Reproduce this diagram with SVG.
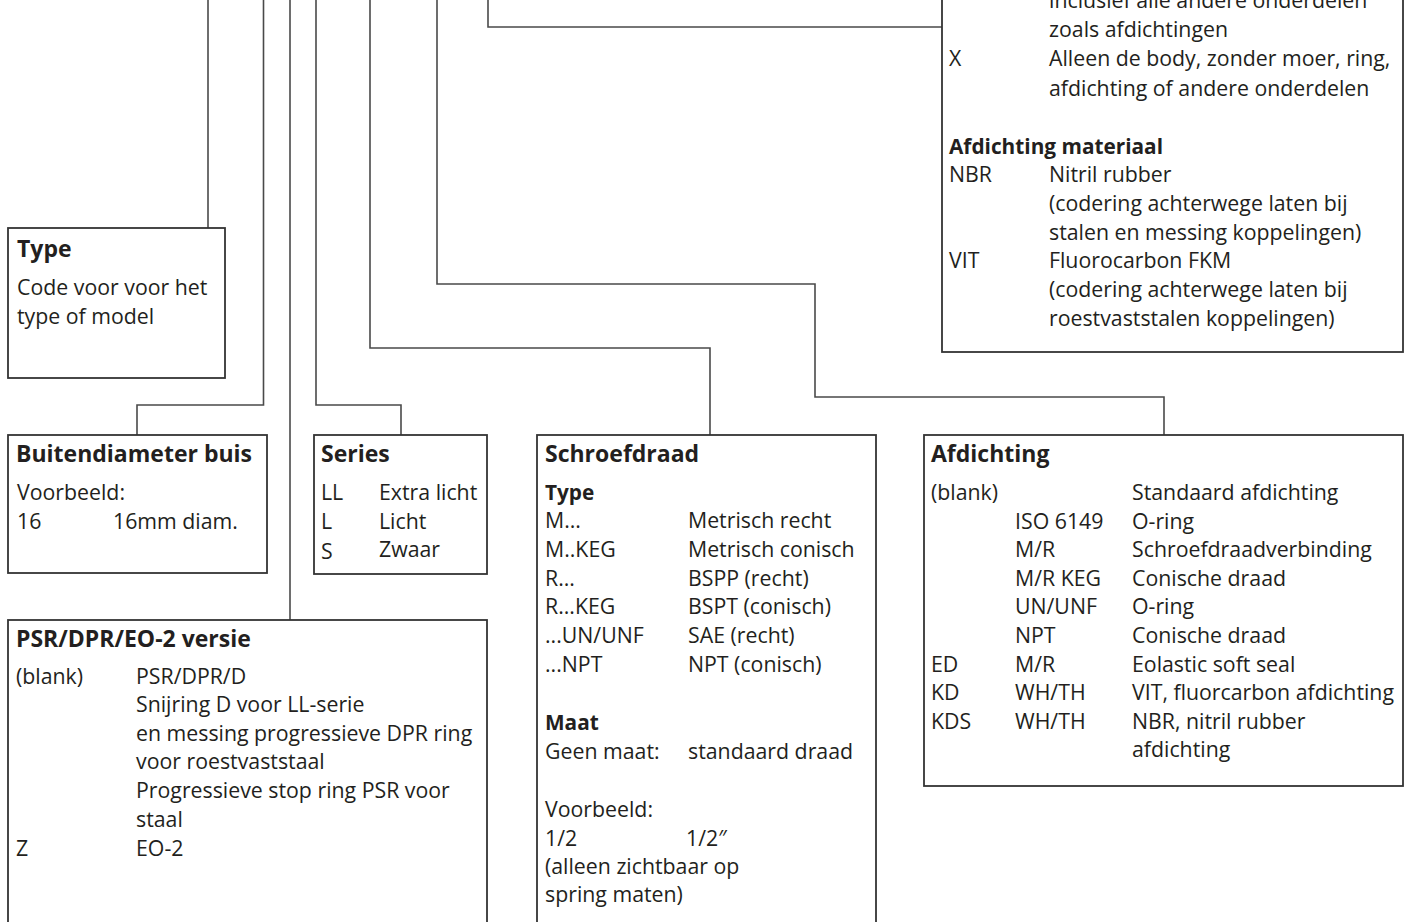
<svg xmlns="http://www.w3.org/2000/svg" width="1405" height="922" viewBox="0 0 1405 922">
<style>
.bg{fill:#ffffff}
.box{fill:#ffffff;stroke:#333333;stroke-width:1.8}
.conn{fill:none;stroke:#4a4a4a;stroke-width:1.6}
text{font-family:"Open Sans","Noto Sans","Liberation Sans",sans-serif;font-size:21.3px;fill:#231f20}
.hh{font-weight:bold;font-size:23px}
.h{font-weight:bold;font-size:20.8px}
</style>
<rect class="bg" x="0" y="0" width="1405" height="922"/>
<g id="connectors">
<path class="conn" d="M208,0 V228"/>
<path class="conn" d="M263.5,0 V405 H137 V435"/>
<path class="conn" d="M290,0 V620"/>
<path class="conn" d="M316,0 V405 H401 V435"/>
<path class="conn" d="M370,0 V348 H710 V435"/>
<path class="conn" d="M437,0 V284 H815 V397 H1164 V435"/>
<path class="conn" d="M488,0 V27 H942"/>
</g>
<g id="node-top-right">
<rect class="box" x="942" y="-10" width="461" height="362"/>
<text x="1049" y="8">inclusief alle andere onderdelen</text>
<text x="1049" y="36.7">zoals afdichtingen</text>
<text x="949" y="66">X</text>
<text x="1049" y="66">Alleen de body, zonder moer, ring,</text>
<text x="1049" y="95.5">afdichting of andere onderdelen</text>
<text class="h" x="949" y="154">Afdichting materiaal</text>
<text x="949" y="182">NBR</text>
<text x="1049" y="182">Nitril rubber</text>
<text x="1049" y="211">(codering achterwege laten bij</text>
<text x="1049" y="239.5">stalen en messing koppelingen)</text>
<text x="949" y="268">VIT</text>
<text x="1049" y="268">Fluorocarbon FKM</text>
<text x="1049" y="297">(codering achterwege laten bij</text>
<text x="1049" y="325.5">roestvaststalen koppelingen)</text>
</g>
<g id="node-type">
<rect class="box" x="8" y="228" width="217" height="150"/>
<text class="hh" x="17" y="257">Type</text>
<text x="17" y="295">Code voor voor het</text>
<text x="17" y="323.5">type of model</text>
</g>
<g id="node-buitendiameter">
<rect class="box" x="8" y="435" width="259" height="138"/>
<text class="hh" x="16" y="461.7">Buitendiameter buis</text>
<text x="17" y="500">Voorbeeld:</text>
<text x="17" y="529">16</text>
<text x="113" y="529">16mm diam.</text>
</g>
<g id="node-series">
<rect class="box" x="314" y="435" width="173" height="139"/>
<text class="hh" x="321" y="461.7">Series</text>
<text x="321" y="500">LL</text>
<text x="379" y="500">Extra licht</text>
<text x="321" y="529">L</text>
<text x="379" y="529">Licht</text>
<text x="321" y="559">S</text>
<text x="379" y="557">Zwaar</text>
</g>
<g id="node-psr">
<rect class="box" x="8" y="620" width="479" height="320"/>
<text class="hh" x="16" y="646.7">PSR/DPR/EO-2 versie</text>
<text x="16" y="683.5">(blank)</text>
<text x="136" y="683.5">PSR/DPR/D</text>
<text x="136" y="712">Snijring D voor LL-serie</text>
<text x="136" y="740.5">en messing progressieve DPR ring</text>
<text x="136" y="769">voor roestvaststaal</text>
<text x="136" y="798">Progressieve stop ring PSR voor</text>
<text x="136" y="827">staal</text>
<text x="16" y="856">Z</text>
<text x="136" y="856">EO-2</text>
</g>
<g id="node-schroefdraad">
<rect class="box" x="537" y="435" width="339" height="505"/>
<text class="hh" x="545" y="461.7">Schroefdraad</text>
<text class="h" x="545" y="500">Type</text>
<text x="545" y="528.3">M...</text>
<text x="688" y="528.3">Metrisch recht</text>
<text x="545" y="557">M..KEG</text>
<text x="688" y="557">Metrisch conisch</text>
<text x="545" y="585.5">R...</text>
<text x="688" y="585.5">BSPP (recht)</text>
<text x="545" y="614">R...KEG</text>
<text x="688" y="614">BSPT (conisch)</text>
<text x="545" y="643">...UN/UNF</text>
<text x="688" y="643">SAE (recht)</text>
<text x="545" y="671.7">...NPT</text>
<text x="688" y="671.7">NPT (conisch)</text>
<text class="h" x="545" y="730">Maat</text>
<text x="545" y="759">Geen maat:</text>
<text x="688" y="759">standaard draad</text>
<text x="545" y="816.7">Voorbeeld:</text>
<text x="545" y="845.5">1/2</text>
<text x="686" y="845.5">1/2″</text>
<text x="545" y="873.5">(alleen zichtbaar op</text>
<text x="545" y="902">spring maten)</text>
</g>
<g id="node-afdichting">
<rect class="box" x="924" y="435" width="479" height="351"/>
<text class="hh" x="931" y="461.7">Afdichting</text>
<text x="931" y="500">(blank)</text>
<text x="1132" y="500">Standaard afdichting</text>
<text x="1015" y="528.5">ISO 6149</text>
<text x="1132" y="528.5">O-ring</text>
<text x="1015" y="557">M/R</text>
<text x="1132" y="557">Schroefdraadverbinding</text>
<text x="1015" y="585.5">M/R KEG</text>
<text x="1132" y="585.5">Conische draad</text>
<text x="1015" y="614">UN/UNF</text>
<text x="1132" y="614">O-ring</text>
<text x="1015" y="642.5">NPT</text>
<text x="1132" y="642.5">Conische draad</text>
<text x="931" y="671.5">ED</text>
<text x="1015" y="671.5">M/R</text>
<text x="1132" y="671.5">Eolastic soft seal</text>
<text x="931" y="700">KD</text>
<text x="1015" y="700">WH/TH</text>
<text x="1132" y="700">VIT, fluorcarbon afdichting</text>
<text x="931" y="728.5">KDS</text>
<text x="1015" y="728.5">WH/TH</text>
<text x="1132" y="728.5">NBR, nitril rubber</text>
<text x="1132" y="757">afdichting</text>
</g>
</svg>
